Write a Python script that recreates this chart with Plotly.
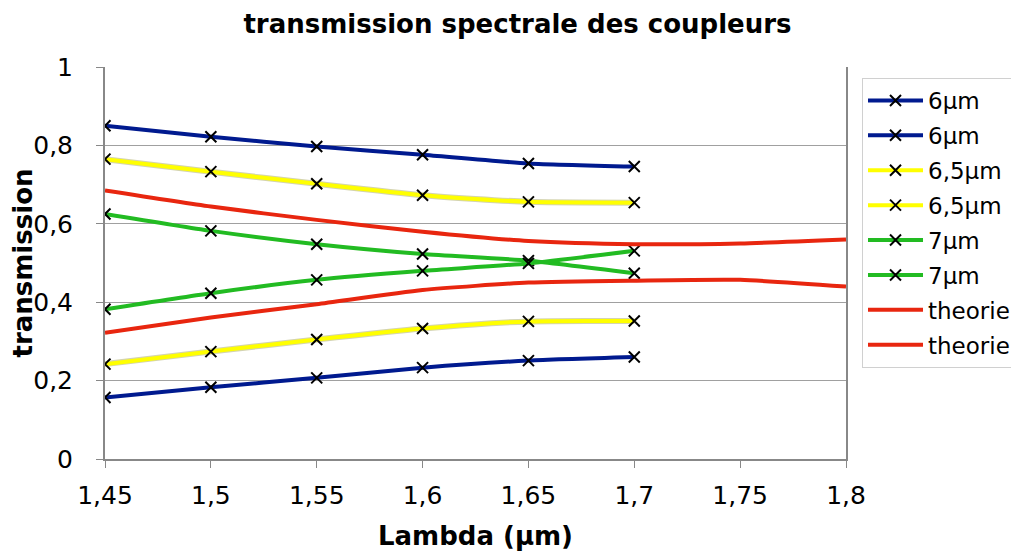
import plotly.graph_objects as go

lam = [1.45, 1.5, 1.55, 1.6, 1.65, 1.7]
lam_th = [1.45, 1.5, 1.55, 1.6, 1.65, 1.7, 1.75, 1.8]

b6_hi = [0.850, 0.822, 0.797, 0.776, 0.754, 0.746]
b6_lo = [0.157, 0.183, 0.207, 0.233, 0.251, 0.260]
y65_hi = [0.765, 0.733, 0.702, 0.673, 0.656, 0.654]
y65_lo = [0.242, 0.274, 0.305, 0.333, 0.351, 0.352]
g7_hi = [0.625, 0.582, 0.548, 0.523, 0.506, 0.474]
g7_lo = [0.382, 0.423, 0.457, 0.480, 0.499, 0.531]
th_hi = [0.685, 0.644, 0.610, 0.580, 0.556, 0.548, 0.550, 0.560]
th_lo = [0.322, 0.361, 0.395, 0.431, 0.450, 0.455, 0.457, 0.440]

x_ticks = [1.45, 1.5, 1.55, 1.6, 1.65, 1.7, 1.75, 1.8]
y_ticks = [0, 0.2, 0.4, 0.6, 0.8, 1]

BLUE = "#001a8f"
YELLOW = "#ffff00"
GREEN = "#22bb22"
RED = "#e8260f"

series = [
    ("6µm", lam, b6_hi, BLUE, True),
    ("6µm", lam, b6_lo, BLUE, True),
    ("6,5µm", lam, y65_hi, YELLOW, True),
    ("6,5µm", lam, y65_lo, YELLOW, True),
    ("7µm", lam, g7_hi, GREEN, True),
    ("7µm", lam, g7_lo, GREEN, True),
    ("theorie", lam_th, th_hi, RED, False),
    ("theorie", lam_th, th_lo, RED, False),
]

fig = go.Figure()
# subtle grey halo under yellow lines
for name, xs, ys, col, mk in series:
    if col == YELLOW:
        fig.add_trace(go.Scatter(x=xs, y=ys, mode="lines", showlegend=False, hoverinfo="skip",
                                 line=dict(color="#d4d4b0", width=6, shape="spline", smoothing=0.6)))

for i, (name, xs, ys, col, mk) in enumerate(series):
    fig.add_trace(go.Scatter(
        x=xs, y=ys, name=name, legendgroup=f"g{i}",
        mode="lines+markers" if mk else "lines",
        line=dict(color=col, width=4, shape="spline", smoothing=0.6),
        marker=dict(symbol="x-thin", size=11, color="black", line=dict(color="black", width=2)),
    ))

fig.update_layout(
    width=1019, height=553,
    margin=dict(l=97, r=181, t=59, b=102, autoexpand=False),
    paper_bgcolor="white", plot_bgcolor="white",
    separators=", ",
    font=dict(family="DejaVu Sans", size=25, color="black"),
    title=dict(text="<b>transmission spectrale des coupleurs</b>", x=0.5, xanchor="center",
               y=0.972, yanchor="middle", font=dict(family="DejaVu Sans", size=26)),
    showlegend=True,
    legend=dict(x=1.0216, xanchor="left", y=0.972, yanchor="top",
                bordercolor="#d0d0d0", borderwidth=1, bgcolor="white",
                font=dict(family="DejaVu Sans", size=23), tracegroupgap=2,
                traceorder="grouped", itemwidth=55),
)
fig.update_xaxes(range=[1.45, 1.8], tickvals=x_ticks, tickformat=".2~f", automargin=False,
                 showgrid=False, showline=True, linecolor="#888888", linewidth=2,
                 ticks="outside", ticklen=7, tickcolor="#888888", zeroline=False,
                 ticklabelstandoff=6,
                 title=dict(text="<b>Lambda (µm)</b>", font=dict(size=26), standoff=18),
                 tickfont=dict(size=25))
fig.update_yaxes(range=[0, 1], tickvals=y_ticks, tickformat=".1~f", automargin=False,
                 showgrid=True, gridcolor="#a0a0a0", gridwidth=1,
                 showline=True, linecolor="#888888", linewidth=2, mirror=True,
                 ticks="outside", ticklen=7, tickcolor="#888888", zeroline=False,
                 ticklabelstandoff=18,
                 title=dict(text="<b>transmission</b>", font=dict(size=26), standoff=10),
                 tickfont=dict(size=25))

fig.write_html("out.html")
